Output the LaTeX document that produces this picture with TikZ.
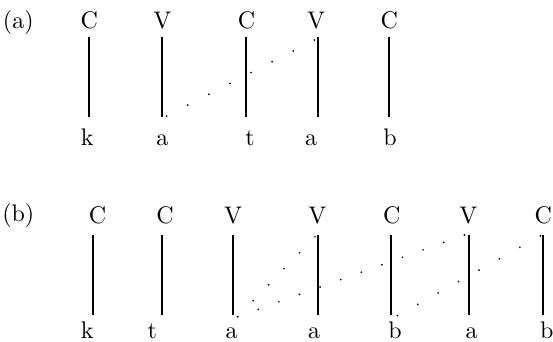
\documentclass[tikz,border=0pt]{standalone}
\usepackage{fontspec}
\setmainfont{lmroman10-regular}[Extension=.otf]
\usetikzlibrary{calc}
\newcommand\dotrow[3]{\foreach \i in {0,...,#3} \fill ($(#1)!\i/#3!(#2)$) circle (0.95pt);}
\begin{document}
\begin{tikzpicture}[x=1pt,y=-1pt,
  lbl/.style={font=\fontsize{24}{29}\selectfont, anchor=base, inner sep=0pt},
  bar/.style={line width=2pt}]
\useasboundingbox (0,0) rectangle (553,341);
% ---------- (a) ----------
\node[lbl] (la) at (18.3,28.3) {(a)};
\foreach \n/\x/\tx/\t/\bx/\b in {1/89.3/89.3/C/87.3/k, 2/161.7/162.3/V/162.3/a, 3/245.7/246.5/C/250/t, 4/318.3/316/V/311/a, 5/389.3/389.3/C/390/b}{
  \node[lbl] (aT\n) at (\tx,28.3) {\t};
  \node[lbl] (aB\n) at (\bx,145) {\b};
  \coordinate (aLt\n) at (\x,37.3);
  \coordinate (aLb\n) at (\x,117.3);
  \draw[bar] (aLt\n) -- (aLb\n);
}
\coordinate (aS) at (166.7,116);
\coordinate (aE) at (314.3,40);
\dotrow{aS}{aE}{7}
% ---------- (b) ----------
\node[lbl] (lb) at (18.3,221) {(b)};
\foreach \n/\x/\tx/\t/\bx/\b in {1/93.3/97.5/C/87.3/k, 2/162.3/165/C/152.3/t, 3/233.3/233/V/231.7/a, 4/318/317.3/V/314/a, 5/391/391.7/C/395/b, 6/469/468.3/V/471.7/a, 7/543.3/543.3/C/546.7/b}{
  \node[lbl] (bT\n) at (\tx,223.3) {\t};
  \node[lbl] (bB\n) at (\bx,338.3) {\b};
  \coordinate (bLt\n) at (\x,234.5);
  \coordinate (bLb\n) at (\x,314.5);
  \draw[bar] (bLt\n) -- (bLb\n);
}
\coordinate (bS1) at (237.7,316.7);
\coordinate (bE1) at (315,236.7);
\coordinate (bE2) at (464.3,235);
\coordinate (bS3) at (397.3,315.7);
\coordinate (bE3) at (540.3,236);
\dotrow{bS1}{bE1}{5}
\dotrow{bS1}{bE2}{11}
\dotrow{bS3}{bE3}{7}
\end{tikzpicture}
\end{document}
